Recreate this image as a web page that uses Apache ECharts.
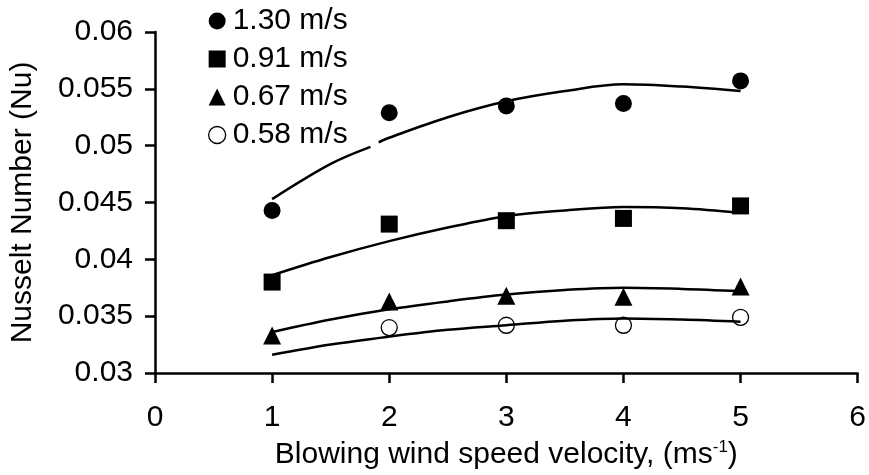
<!DOCTYPE html>
<html>
<head>
<meta charset="utf-8">
<script src="https://cdn.jsdelivr.net/npm/echarts@6/dist/echarts.min.js"></script>
<style>
  html, body { margin: 0; padding: 0; background: #fff; }
  #chart { width: 869px; height: 475px; }
</style>
</head>
<body>
<div id="chart"></div>
<script>
// measured points
var speeds = [1, 2, 3, 4, 5];
var nu130 = [0.0443, 0.0529, 0.0535, 0.0537, 0.0557];
var nu091 = [0.0380, 0.0431, 0.0434, 0.0436, 0.0447];
var nu067 = [0.0333, 0.0363, 0.0368, 0.0367, 0.0376];
var nu058 = [null, 0.0340, 0.0342, 0.0342, 0.0349];

// trend curves
var curveX = [1, 1.5, 2, 2.5, 3, 3.5, 4, 4.5, 5];
var curve130X = [1, 1.5, 1.84, 1.875, 1.91, 2, 2.5, 3, 3.5, 4, 4.5, 5];
var curve130 = [0.0453, 0.0484, 0.0499, '-', 0.0503, 0.0507, 0.0525, 0.0539, 0.0548, 0.0554, 0.0552, 0.0548];
var curve091 = [0.0386, 0.0402, 0.0416, 0.0428, 0.0438, 0.0443, 0.0446, 0.0445, 0.0441];
var curve067 = [0.0336, 0.0347, 0.0356, 0.0363, 0.0369, 0.0373, 0.0375, 0.0374, 0.0372];
var curve058 = [0.0316, 0.0325, 0.0332, 0.0338, 0.0342, 0.0346, 0.0348, 0.0347, 0.0345];

var names = ['1.30 m/s', '0.91 m/s', '0.67 m/s', '0.58 m/s'];

function pairs(xs, ys) {
    var out = [];
    for (var i = 0; i < xs.length; i++) {
        if (ys[i] === null) continue;
        out.push([xs[i], ys[i]]);
    }
    return out;
}

var font = '"Liberation Sans", Arial, sans-serif';
var fs = 30;

function dots(name, vals, symbol, size, style) {
    style.opacity = 1;
    return {
        name: name,
        type: 'scatter',
        symbol: symbol,
        symbolSize: size,
        itemStyle: style,
        z: 2,
        data: pairs(speeds, vals)
    };
}

function curve(xs, vals) {
    return {
        type: 'line',
        smooth: 0.35,
        showSymbol: false,
        symbol: 'none',
        silent: true,
        z: 3,
        lineStyle: { color: '#000', width: 2.5 },
        data: pairs(xs, vals)
    };
}

var myChart = echarts.init(document.getElementById('chart'));

var option = {
    backgroundColor: '#fff',
    animation: false,
    grid: { left: 153, right: 7, top: 32, bottom: 101 },
    legend: {
        orient: 'vertical',
        left: 203,
        top: 1,
        itemWidth: 17,
        itemHeight: 17,
        itemGap: 8,
        textStyle: { fontFamily: font, fontSize: fs, color: '#000', padding: [0, 0, 0, 2] },
        data: [
            { name: names[0], icon: 'circle' },
            { name: names[1], icon: 'rect' },
            { name: names[2], icon: 'triangle' },
            { name: names[3], icon: 'circle', itemStyle: { color: '#fff', borderColor: '#000', borderWidth: 1.3 } }
        ]
    },
    xAxis: {
        type: 'value',
        min: 0,
        max: 6,
        interval: 1,
        name: 'Blowing wind speed velocity, (ms{sup|-1})',
        nameLocation: 'middle',
        nameGap: 66,
        nameTextStyle: {
            fontFamily: font, fontSize: fs, color: '#000',
            rich: { sup: { fontFamily: font, fontSize: 17, color: '#000', verticalAlign: 'top', padding: [0, 0, 15, 0] } }
        },
        splitLine: { show: false },
        axisLine: { onZero: false, lineStyle: { color: '#000', width: 2.5 } },
        axisTick: { length: 10, lineStyle: { color: '#000', width: 2.5 } },
        axisLabel: { fontFamily: font, fontSize: fs, color: '#000', margin: 30 }
    },
    yAxis: {
        type: 'value',
        min: 0.03,
        max: 0.06,
        interval: 0.005,
        name: 'Nusselt Number (Nu)',
        nameLocation: 'middle',
        nameGap: 117,
        nameTextStyle: { fontFamily: font, fontSize: fs, color: '#000' },
        splitLine: { show: false },
        axisLine: { show: true, lineStyle: { color: '#000', width: 2.5 } },
        axisTick: { show: true, length: 10, lineStyle: { color: '#000', width: 2.5 } },
        axisLabel: {
            fontFamily: font, fontSize: fs, color: '#000', margin: 22,
            formatter: function (v) { return String(parseFloat(v.toFixed(3))); }
        }
    },
    series: [
        dots(names[0], nu130, 'circle', 17, { color: '#000' }),
        dots(names[1], nu091, 'rect', 17, { color: '#000' }),
        dots(names[2], nu067, 'triangle', 18, { color: '#000' }),
        dots(names[3], nu058, 'circle', 16, { color: '#fff', borderColor: '#000', borderWidth: 1.3 }),
        curve(curve130X, curve130),
        curve(curveX, curve091),
        curve(curveX, curve067),
        curve(curveX, curve058)
    ]
};

myChart.setOption(option);
</script>
</body>
</html>
